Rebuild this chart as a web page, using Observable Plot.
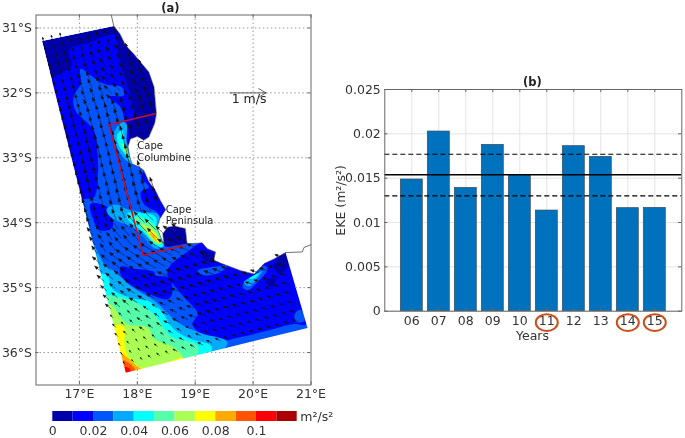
<!DOCTYPE html>
<html>
<head>
<meta charset="utf-8">
<script src="https://cdn.jsdelivr.net/npm/d3@7"></script>
<script src="https://cdn.jsdelivr.net/npm/@observablehq/plot@0.6"></script>
<style>
html,body{margin:0;padding:0;background:#fff;width:685px;height:438px;overflow:hidden}
#map,#bar,#cb{position:absolute;filter:blur(0.35px)}
#map{left:0;top:0}
#cb{left:0;top:400px}
#bar{left:320px;top:0}
svg{background:transparent!important}
</style>
</head>
<body>
<div id="map"></div><div id="cb"></div><div id="bar"></div>
<script>
// ---------- Panel (b) ----------
const years = [6,7,8,9,10,11,12,13,14,15];
const eke = [0.01485,0.02026,0.0139,0.01876,0.01534,0.01135,0.01861,0.0174,0.01162,0.01165];
const ekeMean = 0.01538, ekeUpper = 0.0177, ekeLower = 0.0130;
const circledYears = [11,14,15];
const yTicks = [0,0.005,0.01,0.015,0.02,0.025];

// ---------- Panel (a): colour levels ----------
const levels = [0,0.01,0.02,0.03,0.04,0.05,0.06,0.07,0.08,0.09,0.1,0.11];
const levelColors = ["#0000aa","#0000ff","#0055ff","#00aaff","#00ffff","#55ffaa","#aaff55","#ffff00","#ffaa00","#ff5500","#ff0000","#aa0000"];
const cbTicks = [0,0.02,0.04,0.06,0.08,0.1];

// Coast, lon/lat
const coastNorth = [[17.594,30.97],[17.70,31.09],[17.80,31.27],[17.94,31.40],[18.08,31.55],[18.20,31.68],[18.29,31.91],[18.31,32.12],[18.33,32.32],[18.30,32.47],[18.20,32.68],[18.11,32.73],[18.00,32.67],[17.88,32.71],[17.84,32.83]];
const coastMid = [[17.87,32.99],[17.91,33.09],[18.03,33.14],[18.11,33.19],[18.20,33.37],[18.31,33.50],[18.40,33.66],[18.49,33.80],[18.39,33.94],[18.34,34.07],[18.46,34.35]];
const falseBay = [[18.44,34.17],[18.52,34.07],[18.63,34.05],[18.83,34.09],[18.86,34.32]];
const coastEast = [[18.98,34.32],[19.12,34.31],[19.21,34.40],[19.35,34.45],[19.32,34.58],[19.55,34.66],[19.79,34.74],[20.02,34.79],[20.19,34.63],[20.36,34.56],[20.56,34.46]];
const coastBeyondN = [[17.55,30.80],[17.594,30.97]];
const coastBeyondE = [[20.56,34.46],[20.85,34.45],[20.88,34.38],[21.0,34.34]];
const cornerNW = [16.354,31.20], cornerSE = [20.94,35.62], cornerSW = [17.80,36.31];
const frameCorners = [[16.25,30.8],[21,30.8],[21,36.5],[16.25,36.5],[16.25,30.8]];

const domainPoly = [cornerNW,...coastNorth,...coastMid,...falseBay,...coastEast,cornerSE,cornerSW];
const mainBlue = [[16.53,31.83],[16.87,31.58],[16.82,31.34],[17.13,31.24],[17.62,31.11],[17.66,31.40],[17.80,31.81],[17.91,32.12],[17.95,32.32],[17.85,32.50],[17.86,32.68],[17.84,32.83],...coastMid,[18.52,34.37],[18.86,34.32],...coastEast,cornerSE,cornerSW];
const shelfBand = [[17.02,31.63],[17.19,31.73],[17.42,31.86],[17.74,31.92],[17.76,32.04],[17.51,32.06],[17.71,32.22],[17.78,32.45],[17.81,32.73],[17.84,32.83],[17.87,32.99],[17.91,33.09],[18.03,33.14],[18.11,33.19],[18.06,33.30],[18.20,33.45],[18.06,33.53],[18.11,33.71],[18.34,33.84],[18.39,33.94],[18.34,34.07],[18.46,34.35],[18.52,34.37],[18.86,34.32],...coastEast,cornerSE,cornerSW,[17.05,33.66],[17.25,33.61],[17.32,33.25],[17.31,32.89],[17.25,32.58],[16.93,32.27],[16.90,32.06],[17.02,31.86]];
const patchWest = [[17.19,33.71],[17.48,33.76],[17.57,34.07],[17.36,34.12],[17.22,33.91]];
const patchMid = [[17.71,34.68],[17.94,34.71],[18.29,34.76],[18.31,34.81],[18.55,34.85],[18.6,35.1],[18.52,35.18],[18.11,35.06],[17.82,34.92],[17.71,34.79]];
const eastBlue = [[19.12,34.31],[18.86,34.45],[18.55,34.68],[18.52,34.81],[18.78,35.12],[19.04,35.40],[18.95,35.56],[19.09,35.71],[19.32,35.83],[19.79,35.76],[20.25,35.66],[20.71,35.56],[20.92,35.56],[20.56,34.46],[20.36,34.56],[20.19,34.63],[20.02,34.79],[19.79,34.74],[19.55,34.66],[19.32,34.58],[19.35,34.45],[19.21,34.40]];
const patchSE = [[20.72,35.40],[20.82,35.34],[20.89,35.51],[20.74,35.53]];
const navy1 = [[19.09,34.43],[19.32,34.48],[19.35,34.61],[19.15,34.58]];
const navy2 = [[20.36,34.63],[20.56,34.48],[20.60,34.66],[20.45,34.79]];
const navy3 = [[20.22,34.89],[20.39,34.86],[20.33,34.99],[20.25,34.97]];
const navy4 = [[17.94,33.03],[18.0,32.96],[18.03,33.03],[17.96,33.07]];
const coastal1 = [[19.04,34.74],[19.32,34.68],[19.55,34.66],[19.44,34.76],[19.15,34.81]];
const coastal2 = [[19.81,34.97],[20.02,34.81],[20.19,34.66],[20.25,34.71],[20.07,34.92],[19.90,35.04]];
const coastal3 = [[19.84,34.92],[20.02,34.81],[20.16,34.74],[20.04,34.89],[19.93,34.98]];
const coastal4 = [[19.93,34.86],[20.10,34.78],[20.02,34.86]];
const south3 = [[17.23,34.30],[17.33,34.48],[17.45,34.66],[17.62,34.76],[17.91,34.99],[18.29,35.20],[18.69,35.53],[19.09,35.70],[19.55,35.83],[19.50,35.94],cornerSW];
const south4 = [[17.37,34.79],[17.48,34.81],[17.57,35.02],[17.94,35.17],[18.17,35.20],[18.40,35.35],[18.63,35.64],[18.92,35.79],[19.27,35.89],[19.27,35.99],cornerSW];
const south5 = [[17.48,35.12],[17.57,35.12],[17.91,35.20],[18.17,35.33],[18.34,35.46],[18.49,35.66],[18.60,35.76],[19.04,35.89],[19.03,36.04],cornerSW];
const south6 = [[17.50,35.25],[17.57,35.28],[17.82,35.56],[18.17,35.61],[18.29,35.79],[18.63,35.92],[18.78,36.10],cornerSW];
const south7 = [[17.62,35.58],[17.77,35.61],[17.78,35.87],[17.85,36.07],[18.06,36.23],[18.52,36.15],[18.78,36.07],[18.78,36.10],cornerSW];
const south8 = [[17.72,36.02],[17.84,36.08],[17.98,36.2],[18.06,36.25],cornerSW];
const south9 = [[17.75,36.12],[17.88,36.18],[17.96,36.27],cornerSW];
const south10 = [[17.78,36.22],[17.86,36.24],[17.88,36.29],cornerSW];
const helena3 = [[17.59,32.63],[17.74,32.45],[17.81,32.47],[17.82,32.78],[17.92,33.09],[17.81,33.04],[17.71,32.94],[17.62,32.78]];
const helena4 = [[17.65,32.65],[17.74,32.58],[17.78,32.78],[17.88,33.04],[17.80,32.96],[17.68,32.81]];
const helena6 = [[17.74,32.78],[17.80,32.83],[17.85,33.0],[17.80,32.94]];
const cape3 = [[17.47,33.79],[17.62,33.72],[17.82,33.79],[18.06,33.84],[18.34,33.86],[18.39,33.94],[18.34,34.07],[18.46,34.35],[18.31,34.40],[18.11,34.22],[17.91,34.07],[17.65,33.97],[17.51,33.89]];
const cape4 = [[17.82,33.86],[17.94,33.84],[18.31,33.91],[18.34,34.07],[18.46,34.35],[18.34,34.37],[18.17,34.20],[18.0,34.07],[17.85,33.97]];
const cape5 = [[17.94,33.91],[18.20,33.97],[18.33,34.07],[18.40,34.30],[18.31,34.32],[18.11,34.12]];
const cape6 = [[18.06,34.02],[18.23,34.07],[18.34,34.17],[18.41,34.32],[18.34,34.32],[18.17,34.15]];
const cape7 = [[18.17,34.10],[18.29,34.14],[18.38,34.30],[18.31,34.28]];
const cape8 = [[18.21,34.15],[18.29,34.20],[18.34,34.30],[18.29,34.26]];

const bandList = [
 [0.01,mainBlue],[0.02,shelfBand],[0.01,patchWest],[0.01,patchMid],[0.01,eastBlue],[0.02,patchSE],
 [0,navy1],[0,navy2],[0,navy3],[0,navy4],[0.02,coastal1],[0.02,coastal2],[0.03,coastal3],[0.04,coastal4],
 [0.03,south3],[0.04,south4],[0.05,south5],[0.06,south6],[0.07,south7],[0.08,south8],[0.09,south9],[0.1,south10],
 [0.03,helena3],[0.04,helena4],[0.06,helena6],
 [0.03,cape3],[0.04,cape4],[0.05,cape5],[0.06,cape6],[0.07,cape7],[0.08,cape8]
];
const bandPoints = bandList.flatMap(([level,poly],id)=>poly.map(([lon,lat])=>({id,level,lon,lat})));
const basePoints = domainPoly.map(([lon,lat])=>({level:0,lon,lat}));
// Land and ocean outside the model domain, drawn as a frame with a hole
const outsidePoly = [...frameCorners,...[...domainPoly,domainPoly[0]].reverse(),frameCorners[0]];

// Dotted graticule where it shows outside the domain: [lon, lat1, lat2] and [lat, lon1, lon2]
const gridLonSegments = [[17,30.8,31.08],[17,33.48,36.5],[18,30.8,31.46],[18,32.67,33.13],[18,36.27,36.5],[19,30.8,34.32],[19,36.05,36.5],[20,30.8,34.78],[20,35.83,36.5]];
const gridLatSegments = [[31,16.25,17.43],[31,17.62,21],[32,16.25,16.58],[32,18.30,21],[33,16.25,16.86],[33,17.87,21],[34,16.25,17.15],[34,18.37,21],[35,16.25,17.43],[35,20.74,21],[36,16.25,17.72],[36,19.21,21]];

// Box of interest (red)
const redBox = [[18.31,32.32],[17.51,32.49],[18.10,34.50],[18.83,34.35]];

// Velocity: direction (degrees clockwise from north) and speed (m/s), north to south, offshore to onshore
const flowAngle = [
 [-12,-14,-12,-8,-6,-5,-5],
 [-14,-25,-35,-25,-10,-5,-5],
 [-14,-25,-45,-35,-12,-8,-8],
 [-14,-18,-22,-18,-14,-12,-10],
 [-15,-15,-14,-14,-14,-12,-12],
 [-18,-18,-16,-16,-16,-16,-16],
 [-22,-22,-20,-22,-30,-30,-30],
 [-35,-40,-45,-55,-55,-50,-50],
 [-50,-55,-60,-65,-65,-65,-65],
 [-50,-60,-70,-72,-70,-72,-72],
 [-45,-55,-65,-72,-72,-75,-75],
 [-40,-50,-60,-65,-72,-75,-75]];
const flowSpeed = [
 [.12,.15,.18,.18,.15,.1,.1],
 [.18,.22,.25,.2,.15,.1,.1],
 [.22,.28,.3,.25,.15,.12,.1],
 [.25,.3,.35,.3,.2,.12,.1],
 [.25,.3,.38,.4,.35,.2,.15],
 [.25,.3,.38,.42,.35,.25,.2],
 [.25,.3,.38,.42,.4,.3,.25],
 [.25,.35,.4,.4,.3,.3,.25],
 [.25,.32,.35,.3,.25,.25,.25],
 [.2,.25,.28,.25,.25,.22,.2],
 [.12,.15,.18,.2,.2,.18,.18],
 [.08,.1,.12,.15,.15,.15,.15]];
const gridRows = d3.range(0,36), gridCols = d3.range(0,21);
const arrows = gridRows.flatMap(r=>gridCols.map(c=>{
  const a=(r+0.1)/36, b=(c+0.15)/21;
  const lon=cornerNW[0]+(cornerSW[0]-cornerNW[0])*a+(cornerSE[0]-cornerSW[0])*b;
  const lat=cornerNW[1]+(cornerSW[1]-cornerNW[1])*a+(cornerSE[1]-cornerSW[1])*b;
  const i=Math.floor(r/3), j=Math.floor(c/3);
  return {lon,lat,angle:flowAngle[i][j],speed:flowSpeed[i][j]};
})).filter(d=>d3.polygonContains(domainPoly,[d.lon,d.lat]));
const refArrow = [{lon:19.6,lat:32.0,speed:1,angle:90}];

const lonTicks=[17,18,19,20,21], latTicks=[31,32,33,34,35,36];
const font="DejaVu Sans";
const gray="#666";

const colorScale={type:"threshold",domain:levels.slice(1),range:levelColors};
const lengthScale={type:"linear",domain:[0,1],range:[0,36]};
// Quiver arrow with a small filled head
const quiverArrow={draw(ctx,l){const h=Math.min(3.4,l*0.4),w=h*0.42;
  ctx.moveTo(0,0);ctx.lineTo(0,-l);ctx.lineTo(-w,-l+h);ctx.lineTo(w,-l+h);ctx.lineTo(0,-l);}};
const openArrow={draw(ctx,l){const h=l*0.2,w=h*0.6;
  ctx.moveTo(0,0);ctx.lineTo(0,-l);ctx.moveTo(-w,-l+h);ctx.lineTo(0,-l);ctx.lineTo(w,-l+h);}};

const placeLabels=[
 {lon:18.0,lat:32.82,t:"Cape"},{lon:18.0,lat:33.0,t:"Columbine"},
 {lon:18.49,lat:33.8,t:"Cape"},{lon:18.49,lat:33.97,t:"Peninsula"}];

document.getElementById("map").append(Plot.plot({
  width:340,height:400,marginLeft:35.5,marginRight:29.5,marginTop:14.5,marginBottom:15.5,
  style:{fontFamily:font,fontSize:"12.5px",color:"#333",background:"transparent"},
  x:{domain:[16.25,21],label:null},
  y:{domain:[30.8,36.5],reverse:true,label:null},
  color:colorScale,length:lengthScale,
  marks:[
    Plot.line(basePoints,{x:"lon",y:"lat",fill:"level",stroke:"none",curve:"linear-closed"}),
    Plot.line(bandPoints,{x:"lon",y:"lat",z:"id",fill:"level",stroke:"none",curve:"catmull-rom-closed"}),
    Plot.line(outsidePoly,{fill:"#fff",stroke:"none",curve:"linear-closed"}),
    Plot.ruleX(gridLonSegments,{x:d=>d[0],y1:d=>d[1],y2:d=>d[2],stroke:"#999",strokeDasharray:"1.5,2.5"}),
    Plot.ruleY(gridLatSegments,{y:d=>d[0],x1:d=>d[1],x2:d=>d[2],stroke:"#999",strokeDasharray:"1.5,2.5"}),
    Plot.line(coastBeyondN,{stroke:"#333",strokeWidth:0.7}),
    Plot.line(coastBeyondE,{stroke:"#333",strokeWidth:0.7}),
    Plot.line([...coastNorth,...coastMid,...falseBay,...coastEast],{stroke:"#444",strokeWidth:0.6}),
    Plot.vector(arrows,{x:"lon",y:"lat",length:"speed",rotate:"angle",anchor:"start",shape:quiverArrow,stroke:"#111",fill:"#111",strokeWidth:0.5}),
    Plot.vector(refArrow,{x:"lon",y:"lat",length:"speed",rotate:"angle",anchor:"start",shape:openArrow,stroke:"#222",strokeWidth:0.7}),
    Plot.text(["1 m/s"],{x:19.93,y:32.1,fontSize:12.5,fill:"#222"}),
    Plot.line(redBox,{stroke:"#c8102e",strokeWidth:1.5}),
    Plot.text(placeLabels,{x:"lon",y:"lat",text:"t",textAnchor:"start",fontSize:10,fill:"#222"}),
    Plot.text(["(a)"],{x:18.57,y:30.69,fontWeight:"bold",fontSize:11.5,fill:"#222"}),
    Plot.ruleX(lonTicks,{y1:36.5,y2:36.45,stroke:gray}),
    Plot.ruleX(lonTicks,{y1:30.8,y2:30.85,stroke:gray}),
    Plot.ruleY(latTicks,{x1:16.25,x2:16.3,stroke:gray}),
    Plot.ruleY(latTicks,{x1:21,x2:20.95,stroke:gray}),
    Plot.frame({stroke:gray}),
    Plot.axisX(lonTicks,{anchor:"bottom",tickSize:0,tickPadding:4,tickFormat:d=>d+"°E",fill:"#333"}),
    Plot.axisY(latTicks,{anchor:"left",tickSize:0,tickPadding:4,tickFormat:d=>d+"°S",fill:"#333"})
  ]
}));

const levelCells=levels.map(v=>({v,v2:v+0.01}));
document.getElementById("cb").append(Plot.plot({
  width:340,height:38,marginLeft:52.3,marginRight:43.3,marginTop:11,marginBottom:17,
  style:{fontFamily:font,fontSize:"12.5px",color:"#333",background:"transparent"},
  x:{domain:[0,0.12],label:null},
  y:{domain:[0,1],axis:null},
  color:colorScale,
  marks:[
    Plot.rect(levelCells,{x1:"v",x2:"v2",y1:0,y2:1,fill:"v"}),
    Plot.axisX(cbTicks,{anchor:"bottom",tickSize:0,tickPadding:5,tickFormat:d=>String(d),fill:"#333"}),
    Plot.text(["m²/s²"],{x:0.1215,y:0.5,textAnchor:"start",fontSize:12.5,fill:"#333"})
  ]
}));

const barData=years.map((y,i)=>({y,v:eke[i]}));
const half=0.407;
const ellipse={draw(ctx,size){const rx=Math.sqrt(size)*0.62,ry=Math.sqrt(size)*0.47,k=0.5523;
  ctx.moveTo(rx,0);ctx.bezierCurveTo(rx,k*ry,k*rx,ry,0,ry);ctx.bezierCurveTo(-k*rx,ry,-rx,k*ry,-rx,0);
  ctx.bezierCurveTo(-rx,-k*ry,-k*rx,-ry,0,-ry);ctx.bezierCurveTo(k*rx,-ry,rx,-k*ry,rx,0);ctx.closePath();}};
document.getElementById("bar").append(Plot.plot({
  width:365,height:350,marginLeft:64.3,marginRight:3.7,marginTop:89,marginBottom:39.3,
  style:{fontFamily:font,fontSize:"12.5px",color:"#333",background:"transparent"},
  x:{domain:[5,16],label:null},
  y:{domain:[0,0.025],label:null},
  r:{type:"identity"},
  marks:[
    Plot.gridX(years,{stroke:"#e4e4e4",strokeOpacity:1}),
    Plot.gridY(yTicks,{stroke:"#e4e4e4",strokeOpacity:1}),
    Plot.rectY(barData,{x1:d=>d.y-half,x2:d=>d.y+half,y1:0,y2:"v",fill:"#0072bd",stroke:"#3a4a5a",strokeWidth:0.7}),
    Plot.ruleY([ekeMean],{stroke:"#000",strokeWidth:1.5}),
    Plot.ruleY([ekeUpper,ekeLower],{stroke:"#000",strokeWidth:1.2,strokeDasharray:"5,3"}),
    Plot.ruleX(years,{y1:0,y2:0.00035,stroke:gray}),
    Plot.ruleX(years,{y1:0.025,y2:0.02465,stroke:gray}),
    Plot.ruleY(yTicks,{x1:5,x2:5.12,stroke:gray}),
    Plot.ruleY(yTicks,{x1:16,x2:15.88,stroke:gray}),
    Plot.frame({stroke:gray}),
    Plot.axisX(years,{anchor:"bottom",tickSize:0,tickPadding:5,tickFormat:d=>String(d).padStart(2,"0"),fill:"#333"}),
    Plot.axisY(yTicks,{anchor:"left",tickSize:0,tickPadding:4,tickFormat:d=>String(d),fill:"#333"}),
    Plot.dot(circledYears,{x:d=>d,y:-0.00128,r:10,symbol:ellipse,stroke:"#c8501e",strokeWidth:2,fill:"none"}),
    Plot.text(["Years"],{x:10.47,y:-0.00285,fontSize:12.5,fill:"#333"}),
    Plot.text(["EKE (m²/s²)"],{x:3.36,y:0.0125,rotate:-90,fontSize:12.5,fill:"#333"}),
    Plot.text(["(b)"],{x:10.47,y:0.0258,fontWeight:"bold",fontSize:11.5,fill:"#222"})
  ]
}));
</script>
</body>
</html>
